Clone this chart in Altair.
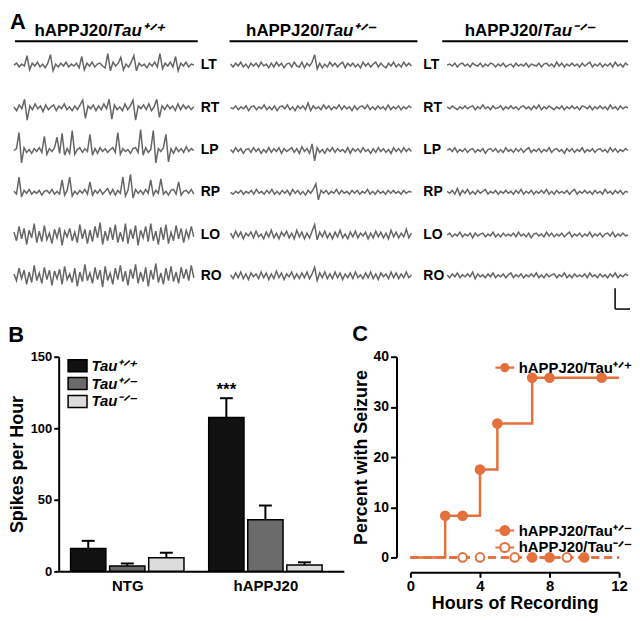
import altair as alt
import pandas as pd

FONT = "Liberation Sans"
ORANGE = "#E4703C"
TRACE_GRAY = "#666666"

# ------------------------------------------------------------------ Panel A data
channels = ["LT", "RT", "LP", "RP", "LO", "RO"]
genos = ["Tau⁺ᐟ⁺", "Tau⁺ᐟ⁻", "Tau⁻ᐟ⁻"]

# EEG amplitude estimates (px-like units, positive = up), one list per trace
LT_wt = [0,2,-2,1,-1,10,-5,2,-1,3,-2,1,-3,2,11,-6,1,-2,2,-1,3,-2,1,-1,2,-3,9,-5,2,-1,3,-2,1,2,-1,-3,12,-6,3,-1,2,8,-5,1,-2,3,10,-6,2,-1,1,-3,2,-1,3,-2,12,-4,2,-1,3,-2,9,-6,2,-1,3,-2,1,0]
RT_wt = [1,-3,3,-1,9,-13,2,-2,4,-1,2,-4,3,-2,1,3,-3,2,-1,4,-2,1,-3,2,-2,3,8,-11,2,-1,3,-3,2,-2,4,-1,9,-12,3,-2,1,-3,4,-2,2,8,-13,2,-1,3,-2,4,-3,1,9,-10,2,-2,3,-1,2,-3,4,-2,3,-1,2,-2,1]
LP_wt = [0,2,19,-13,3,-2,1,-3,2,-1,3,-2,15,-4,2,-1,3,14,-3,18,-5,2,-3,21,-4,1,3,-2,2,-1,17,-5,2,-3,3,-1,2,-2,1,3,-2,19,-4,2,-1,1,-3,2,3,-2,22,-5,3,-2,1,21,-13,2,-1,3,17,-12,2,-3,3,-1,2,-2,4,-1,2,0]
RP_wt = [1,-2,16,-5,2,-1,3,-2,1,-1,2,-3,1,2,-1,3,-2,1,-2,13,-3,2,16,-4,1,-2,2,-1,3,-2,11,-3,2,-1,3,-2,1,4,-2,3,-3,2,-1,16,-4,2,19,-6,3,-1,2,-2,3,-1,13,-3,2,-1,14,-2,1,-3,2,3,-2,11,-3,1,2,-1,3,-2]
LO_wt = [3,-6,9,-4,7,-10,5,-3,12,-8,4,-7,10,-5,2,-9,6,-3,8,-11,4,-2,7,-6,3,-8,11,-4,6,-9,5,-7,9,-3,13,-10,4,-6,8,-5,11,-8,3,-7,12,-9,6,-4,10,-11,5,-3,9,-7,12,-6,4,-10,8,-5,11,-9,3,-6,10,-4,7,-8,5,-3,9,-2]
RO_wt = [2,-5,8,-3,6,-9,4,-7,11,-5,3,-8,9,-4,6,-10,5,-3,7,-9,10,-4,2,-7,8,-11,4,-6,12,-5,3,-8,9,-4,6,-12,10,-5,3,-9,8,-4,11,-6,5,-10,7,-3,12,-8,4,-6,9,-11,6,-4,13,-7,3,-9,8,-5,10,-6,4,-8,9,-3,7,-5,11,-2]

LT_het = [1,-2,2,-1,3,-2,1,-3,2,-1,2,-2,3,-1,1,-3,2,-2,3,-1,2,-3,1,2,-2,3,-1,-2,3,-3,2,-1,3,11,-4,2,-3,1,-2,3,-1,2,-2,1,3,-3,2,-1,2,-2,1,-3,3,-1,2,-2,1,3,-2,2,-1,-3,2,-1,3,-2,1,-2,3,-1,2,-1]
RT_het = [0,-1,2,-2,1,-1,2,-3,1,2,-2,1,-1,3,-2,1,-2,2,-3,1,2,-1,3,-2,1,-3,2,-1,2,-2,5,-3,2,-1,1,-2,3,-1,2,-2,1,-1,3,-2,2,-1,1,-3,2,-2,1,2,-1,3,-2,1,-2,2,-1,1,-2,3,-2,1,-1,2,-2,1,-1,2,0]
LP_het = [1,-2,3,-1,2,-3,1,2,-2,3,-1,2,-3,1,-2,3,-2,2,-1,3,-3,2,-1,1,3,-2,2,-3,4,-1,2,-3,7,-11,3,-2,1,-3,2,-1,3,-2,2,-1,1,-2,3,-3,2,-1,2,-2,3,-1,1,-3,2,-2,3,-1,2,-2,1,-3,3,-1,2,-2,3,-1,2,-1]
RP_het = [0,-2,1,-1,2,-2,1,-1,2,-2,3,-1,1,-2,2,-1,3,-2,1,-2,2,-1,2,-3,3,-1,2,-2,1,-3,2,-1,3,9,-8,2,-1,2,-2,1,-1,3,-2,2,-1,1,-2,2,-1,2,-2,1,-1,3,-2,1,-2,2,-1,1,-2,2,-1,2,-1,1,-2,2,-1,1,0]
LO_het = [2,-3,4,-2,3,-4,2,-1,3,-3,4,-2,1,-4,3,-2,5,-3,2,-4,3,-1,4,-3,2,-4,5,-2,3,-4,2,-3,4,11,-5,3,-2,4,-3,2,-4,3,-2,5,-3,1,-4,3,-2,4,-3,2,-1,3,-4,2,-3,4,-2,3,-3,2,-4,5,-2,3,-3,2,-2,6,-3,2]
RO_het = [1,-3,3,-2,4,-3,2,-4,3,-1,2,-3,4,-2,3,-4,2,-3,5,-2,3,-4,2,-1,4,-3,2,-3,3,-2,4,-3,2,9,-5,3,-2,4,-3,2,-3,4,-2,3,-4,2,-2,3,-3,4,-2,1,-3,3,-2,4,-3,2,-4,3,-1,2,-3,4,-2,3,-3,2,-2,4,-2,1]

LT_ko = [0,1,-1,2,-2,1,2,-1,1,-2,2,0,-1,2,-2,1,-1,2,1,-2,1,-1,2,-2,0,1,-2,2,-1,1,-1,2,-2,1,0,-1,2,-2,1,2,-1,1,-2,3,-1,2,-2,1,-1,2,-1,1,-2,2,-1,1,3,-2,1,-1,2,-2,1,-1,2,-2,3,-1,1,-2,2,0]
RT_ko = [1,-1,2,0,-2,1,-1,2,-1,1,2,-2,1,-1,3,-1,1,-2,2,-1,0,2,-2,1,-1,2,-1,1,-2,1,2,-1,1,-2,2,-1,3,-2,1,-1,2,0,-2,1,-1,2,-2,1,-1,2,-1,1,-2,2,1,-1,2,-2,1,-1,2,-1,1,-2,3,-1,1,-2,2,-1,1,0]
LP_ko = [0,2,-1,3,-2,1,-1,2,-2,1,2,-2,1,-1,2,-3,1,2,-1,2,-2,1,-2,3,-1,1,-2,2,-1,2,-2,1,3,-2,1,-1,2,-2,1,-1,3,-2,1,2,-1,1,-3,2,-1,2,-2,1,-1,3,-2,1,-1,2,-2,1,2,-1,1,-2,3,-1,2,-2,1,-1,2,0]
RP_ko = [1,-1,2,-2,4,-3,2,-1,3,-2,1,-2,2,-1,1,3,-2,1,-1,2,-2,1,-1,2,-1,1,-2,2,-1,3,-2,1,-1,2,-2,1,-1,2,-1,3,-2,1,-2,2,-1,1,-1,2,-2,1,3,-2,1,-1,2,-1,1,-2,2,-1,1,-2,3,-1,1,-2,2,-1,2,-2,1,0]
LO_ko = [0,2,-2,1,-1,3,-2,1,-1,2,-3,2,-1,1,2,-2,1,-1,3,-2,1,-2,2,-1,1,-1,2,-2,3,-1,1,-2,2,-3,1,2,-1,1,-2,3,-1,2,-2,1,-1,2,-2,1,3,-2,1,-1,2,-2,1,-1,3,-2,1,-1,2,-2,1,2,-1,3,-2,1,-1,2,-1,0]
RO_ko = [1,-2,2,-1,3,-2,1,-1,2,-1,4,-3,2,-1,1,-2,2,-1,3,-2,1,-1,2,-2,1,3,-2,1,-1,2,-2,1,-1,2,-1,3,-2,1,-2,2,-1,1,2,-2,1,-1,3,-2,1,-2,2,-1,1,-1,2,-2,3,-1,1,-2,2,-1,1,-2,2,-1,3,-2,1,-1,2,0]

traces = [
    [LT_wt, RT_wt, LP_wt, RP_wt, LO_wt, RO_wt],
    [LT_het, RT_het, LP_het, RP_het, LO_het, RO_het],
    [LT_ko, RT_ko, LP_ko, RP_ko, LO_ko, RO_ko],
]

# ------------------------------------------------------------------ Panel B data
groups = ["NTG", "hAPPJ20"]
spikes_mean = [16.0, 3.8, 9.5, 107.5, 36.0, 4.5]
spikes_sem = [5.3, 1.7, 3.5, 13.5, 10.0, 1.8]
spikes_sig = ["", "", "", "***", "", ""]

# ------------------------------------------------------------------ Panel C data
km_hours_wt = [0, 2, 4, 5, 7, 12]
km_pct_wt = [0, 8.3, 17.5, 26.7, 35.8, 35.8]
mark_hours_wt = [2, 3, 4, 5, 7, 8, 11]
mark_pct_wt = [8.3, 8.3, 17.5, 26.7, 35.8, 35.8, 35.8]
km_hours_het = [0, 12]
km_pct_het = [0, 0]
mark_hours_het = [7, 8, 10]
km_hours_ko = [0, 12]
km_pct_ko = [0, 0]
mark_hours_ko = [3, 4, 6, 9]
series_labels = ["hAPPJ20/Tau⁺ᐟ⁺", "hAPPJ20/Tau⁺ᐟ⁻", "hAPPJ20/Tau⁻ᐟ⁻"]

# ------------------------------------------------------------------ Panel A layout
# The concat layout aligns panel A's origin with panel B's plot origin, so
# panel A's frame starts E_X / E_Y pixels in and its content overflows to the left/top.
E_X = 49
E_Y = 30
Y_GAIN = 0.955
A_TOP = E_Y / Y_GAIN
A_BOTTOM = 314
col_x0 = [12, 230, 448]
col_x1 = [193, 412, 630]
row_y = [56, 101, 146, 190, 235, 278]
label_x = [200, 424]
title_split = [111, 324, 544]
title_y = 25
title_line = [(13, 197), (229, 418), (443, 630)]
line_y = 31

rows = []
for c in range(3):
    for r in range(6):
        vals = traces[c][r]
        n = len(vals)
        for i, v in enumerate(vals):
            rows.append({"id": f"{c}-{r}",
                         "x": col_x0[c] + (col_x1[c] - col_x0[c]) * i / (n - 1),
                         "y": row_y[r] - v})
tr_df = pd.DataFrame(rows)

lab_df = pd.DataFrame([{"x": label_x[c], "y": row_y[r], "t": channels[r]}
                       for c in range(2) for r in range(6)])
ttl_df = pd.DataFrame({"x": title_split, "y": [title_y] * 3,
                       "a": ["hAPPJ20/"] * 3, "b": genos})
rule_df = pd.DataFrame({"x": [a for a, b in title_line], "x2": [b for a, b in title_line],
                        "y": [line_y] * 3, "y2": [line_y] * 3})
bar_df = pd.DataFrame({"x": [617, 617], "x2": [617, 632], "y": [291, 313], "y2": [313, 313]})
letter_df = pd.DataFrame({"x": [8], "y": [0], "t": ["A"]})

XA = alt.X("x:Q", scale=alt.Scale(domain=[8 + E_X, 632], nice=False, zero=False), axis=None)
YA = alt.Y("y:Q", scale=alt.Scale(domain=[A_TOP, A_BOTTOM], nice=False, zero=False, reverse=True), axis=None)

a_traces = alt.Chart(tr_df).mark_line(color=TRACE_GRAY, strokeWidth=1.5).encode(x=XA, y=YA, detail="id:N")
a_labels = alt.Chart(lab_df).mark_text(font=FONT, fontSize=14, fontWeight="bold", align="left",
                                       baseline="middle", color="black").encode(x=XA, y=YA, text="t:N")
a_t1 = alt.Chart(ttl_df).mark_text(font=FONT, fontSize=17, fontWeight="bold", align="right",
                                   baseline="alphabetic", color="black").encode(x=XA, y=YA, text="a:N")
a_t2 = alt.Chart(ttl_df).mark_text(font=FONT, fontSize=17, fontWeight="bold", fontStyle="italic",
                                   align="left", baseline="alphabetic", color="black").encode(x=XA, y=YA, text="b:N")
a_rules = alt.Chart(rule_df).mark_rule(color="black", strokeWidth=2).encode(
    x=XA, x2="x2:Q", y=YA, y2="y2:Q")
a_bar = alt.Chart(bar_df).mark_rule(color="black", strokeWidth=1.5).encode(
    x=XA, x2="x2:Q", y=YA, y2="y2:Q")
a_letter = alt.Chart(letter_df).mark_text(font=FONT, fontSize=22, fontWeight="bold", align="left",
                                          baseline="top", color="black").encode(x=XA, y=YA, text="t:N")

A_HEIGHT = round((A_BOTTOM - A_TOP) * Y_GAIN)
panel_a = alt.layer(a_traces, a_labels, a_t1, a_t2, a_rules, a_bar, a_letter).properties(
    width=624 - E_X, height=A_HEIGHT)

# ------------------------------------------------------------------ Panel B
B_WIDTH = 287
GROUP_START = [12, 151]
BAR_STEP = 39.3
BAR_W = 35.5
CAP_W = 13
b_df = pd.DataFrame({"group": [g for g in groups for _ in genos],
                     "geno": genos * 2,
                     "mean": spikes_mean, "sem": spikes_sem, "sig": spikes_sig})
b_df["top"] = b_df["mean"] + b_df["sem"]
b_df["x0"] = [GROUP_START[gi] + k * BAR_STEP for gi in range(2) for k in range(3)]
b_df["x1"] = b_df["x0"] + BAR_W
b_df["xc"] = b_df["x0"] + BAR_W / 2
b_df["c0"] = b_df["xc"] - CAP_W / 2
b_df["c1"] = b_df["xc"] + CAP_W / 2
group_centers = [GROUP_START[gi] + (2 * BAR_STEP + BAR_W) / 2 for gi in range(2)]


def xb(field):
    return alt.X(f"{field}:Q", scale=alt.Scale(domain=[0, B_WIDTH], nice=False, zero=False, padding=0),
                 axis=alt.Axis(title=None, values=group_centers, ticks=False, labelFontSize=15,
                               labelPadding=7, labelFlush=False,
                               labelExpr=f"datum.value < {B_WIDTH / 2} ? '{groups[0]}' : '{groups[1]}'"))


def yb(field):
    return alt.Y(f"{field}:Q", scale=alt.Scale(domain=[0, 150], nice=False),
                 axis=alt.Axis(values=[0, 50, 100, 150], title="Spikes per Hour", titleFontSize=18,
                               labelFontSize=13, tickSize=5, titlePadding=4, labelPadding=2))


RECT_PATH = "M-1.36,-0.86H1.36V0.86H-1.36Z"
b_bars = alt.Chart(b_df).mark_bar(stroke="black", strokeWidth=1.5).encode(
    x=xb("x0"), x2="x1:Q", y=yb("mean"), y2=alt.datum(0),
    fill=alt.Fill("geno:N", sort=genos,
                  scale=alt.Scale(domain=genos, range=["#111111", "#6b6b6b", "#dcdcdc"]),
                  legend=alt.Legend(title=None, orient="none", legendX=11, legendY=1,
                                    symbolType=RECT_PATH, symbolSize=196, symbolStrokeColor="black",
                                    symbolStrokeWidth=1.5, labelFont=FONT, labelFontSize=15,
                                    labelFontStyle="italic", labelFontWeight="bold", labelOffset=6,
                                    rowPadding=-4, padding=0)))
b_err = alt.Chart(b_df).mark_rule(color="black", strokeWidth=2).encode(
    x=xb("xc"), y=yb("mean"), y2="top:Q")
b_cap = alt.Chart(b_df).mark_rule(color="black", strokeWidth=2).encode(
    x=xb("c0"), x2="c1:Q", y=yb("top"))
b_sig = alt.Chart(b_df).mark_text(font=FONT, fontSize=17, fontWeight="bold", baseline="bottom",
                                  dy=1, color="black").encode(x=xb("xc"), y=yb("top"), text="sig:N")

panel_b = alt.layer(b_err, b_cap, b_bars, b_sig).properties(
    width=B_WIDTH, height=216, title=alt.Title("B", fontSize=22))

# ------------------------------------------------------------------ Panel C
wt_line = pd.DataFrame({"h": km_hours_wt, "p": km_pct_wt})
wt_pts = pd.DataFrame({"h": mark_hours_wt, "p": mark_pct_wt, "series": series_labels[0]})
other_lines = pd.DataFrame({"h": km_hours_het + km_hours_ko, "p": km_pct_het + km_pct_ko,
                            "series": [series_labels[1]] * 2 + [series_labels[2]] * 2})
other_pts = pd.DataFrame({"h": mark_hours_het + mark_hours_ko,
                          "p": [0] * (len(mark_hours_het) + len(mark_hours_ko)),
                          "series": [series_labels[1]] * len(mark_hours_het) + [series_labels[2]] * len(mark_hours_ko)})


def xc():
    return alt.X("h:Q", scale=alt.Scale(domain=[0, 12], nice=False),
                 axis=alt.Axis(values=[0, 4, 8, 12], title="Hours of Recording", titleFontSize=18,
                               labelFontSize=15, labelFlush=False, offset=15, tickSize=5,
                               titlePadding=1, labelPadding=1))


def yc():
    return alt.Y("p:Q", scale=alt.Scale(domain=[0, 40], nice=False),
                 axis=alt.Axis(values=[0, 10, 20, 30, 40], title="Percent with Seizure", titleFontSize=18,
                               labelFontSize=14, offset=14, tickSize=6, titlePadding=3, labelPadding=2))


C_PATH = "M-1.35,0H-0.65M0.65,0H1.35M0.65,0A0.65,0.65,0,1,1,-0.65,0A0.65,0.65,0,1,1,0.65,0Z"
C_PATH_FILLED = "M-1.35,-0.15H1.35V0.15H-1.35ZM0.65,0A0.65,0.65,0,1,1,-0.65,0A0.65,0.65,0,1,1,0.65,0Z"
c_other_lines = alt.Chart(other_lines).mark_line(color=ORANGE, strokeWidth=2.5, strokeDash=[8, 5]).encode(
    x=xc(), y=yc(), detail="series:N")
c_wt_line = alt.Chart(wt_line).mark_line(color=ORANGE, strokeWidth=2.5, interpolate="step-after").encode(
    x=xc(), y=yc())
c_wt_pts = alt.Chart(wt_pts).mark_point(shape="circle", filled=True, size=75, color=ORANGE, stroke=ORANGE,
                                        strokeWidth=2, opacity=1).encode(
    x=xc(), y=yc(),
    opacity=alt.Opacity("series:O", scale=alt.Scale(domain=[series_labels[0]], range=[1]),
                        legend=alt.Legend(title=None, orient="none", legendX=87, legendY=3,
                                          symbolType=C_PATH_FILLED, symbolSize=196, symbolFillColor=ORANGE,
                                          symbolStrokeColor=ORANGE, symbolStrokeWidth=2, labelFont=FONT,
                                          labelFontSize=15, labelFontWeight="bold", labelOffset=6, padding=0)))
c_other_pts = alt.Chart(other_pts).mark_point(shape="circle", filled=True, size=75, stroke=ORANGE,
                                              strokeWidth=2, opacity=1).encode(
    x=xc(), y=yc(),
    fill=alt.Fill("series:N", sort=series_labels[1:],
                  scale=alt.Scale(domain=series_labels[1:], range=[ORANGE, "white"]),
                  legend=alt.Legend(title=None, orient="none", legendX=87, legendY=167,
                                    symbolType=C_PATH, symbolSize=196, symbolStrokeColor=ORANGE,
                                    symbolStrokeWidth=2, labelFont=FONT, labelFontSize=15,
                                    labelFontWeight="bold", labelOffset=6, rowPadding=-4, padding=0)))

panel_c = alt.layer(c_other_lines, c_wt_line, c_other_pts, c_wt_pts).properties(
    width=210, height=202, title=alt.Title("C", fontSize=22))

bottom = alt.hconcat(panel_b, panel_c, spacing=8).resolve_scale(
    fill="independent", opacity="independent").resolve_legend(fill="independent", opacity="independent")

B_PLOT_TOP = round(363 * Y_GAIN)
chart = alt.vconcat(panel_a, bottom, spacing=B_PLOT_TOP - E_Y - A_HEIGHT,
                    bounds="flush").resolve_scale(
    fill="independent", opacity="independent").resolve_legend(
    fill="independent", opacity="independent").properties(
    padding=0
).configure_view(stroke=None).configure_axis(
    domainColor="black", domainWidth=2, tickColor="black", tickWidth=2, grid=False,
    labelFont=FONT, labelFontWeight="bold", labelColor="black",
    titleFont=FONT, titleFontWeight="bold", titleColor="black"
).configure_title(font=FONT, fontWeight="bold", anchor="start", offset=4, color="black"
).configure_legend(labelColor="black")

chart.save("out.html", embed_options={"renderer": "svg", "actions": False})
